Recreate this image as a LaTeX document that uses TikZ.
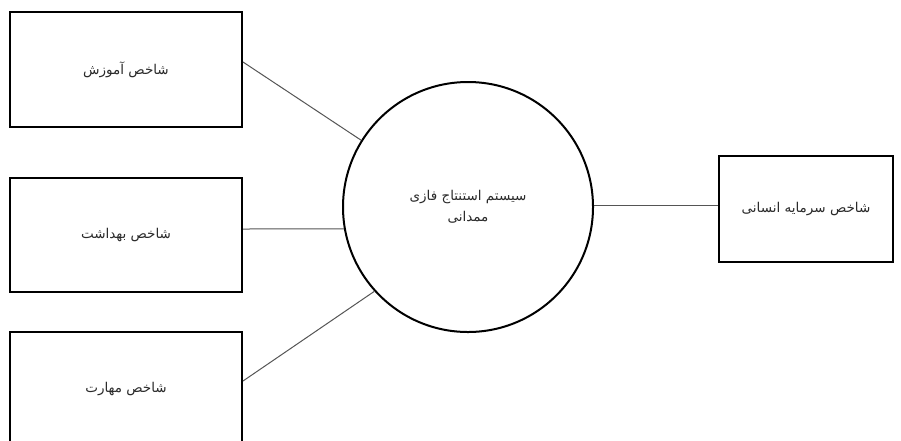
\documentclass[tikz,border=0pt]{standalone}
\usepackage{fontspec}
\newfontfamily\arabicfont[Script=Arabic]{DejaVu Sans}
\TeXXeTstate=1
\definecolor{conncol}{HTML}{555555}
\definecolor{txtcol}{HTML}{2A2A2A}
\begin{document}
\begin{tikzpicture}[x=1pt,y=-1pt,
  box/.style={draw=black, line width=2pt, fill=white, inner sep=0pt, text=txtcol, font=\arabicfont\fontsize{13.5}{21}\selectfont},
  circ/.style={draw=black, line width=2pt, circle, inner sep=0pt, minimum size=250pt, text=txtcol, align=center, font=\arabicfont\fontsize{13.5}{21}\selectfont},
  conn/.style={draw=conncol, line width=1pt}]
\useasboundingbox[fill=white] (0,0) rectangle (901,440);
\node[box, minimum width=232pt, minimum height=115pt] (b1) at (126,69.5) {\beginR شاخص آموزش\endR};
\node[box, minimum width=232pt, minimum height=114pt] (b2) at (126,235) {\beginR شاخص بهداشت\endR};
\node[box, minimum width=232pt, minimum height=114pt] (b3) at (126,389) {\beginR شاخص مهارت\endR};
\node[circ] (c) at (468,207) {\beginR سیستم استنتاج فازی\endR\\\beginR ممدانی\endR};
\node[box, minimum width=174pt, minimum height=106pt] (r) at (806,209) {\beginR شاخص سرمایه انسانی\endR};
\draw[conn] ([yshift=7.5pt]b1.east) -- (c.148);
\draw[conn] ([yshift=6pt]b2.east) -- (c.190);
\draw[conn] ([yshift=8pt]b3.east) -- (c.222);
\draw[conn] ([yshift=2pt]c.east) -- ([yshift=2pt]c.east -| r.west);
\end{tikzpicture}
\end{document}
